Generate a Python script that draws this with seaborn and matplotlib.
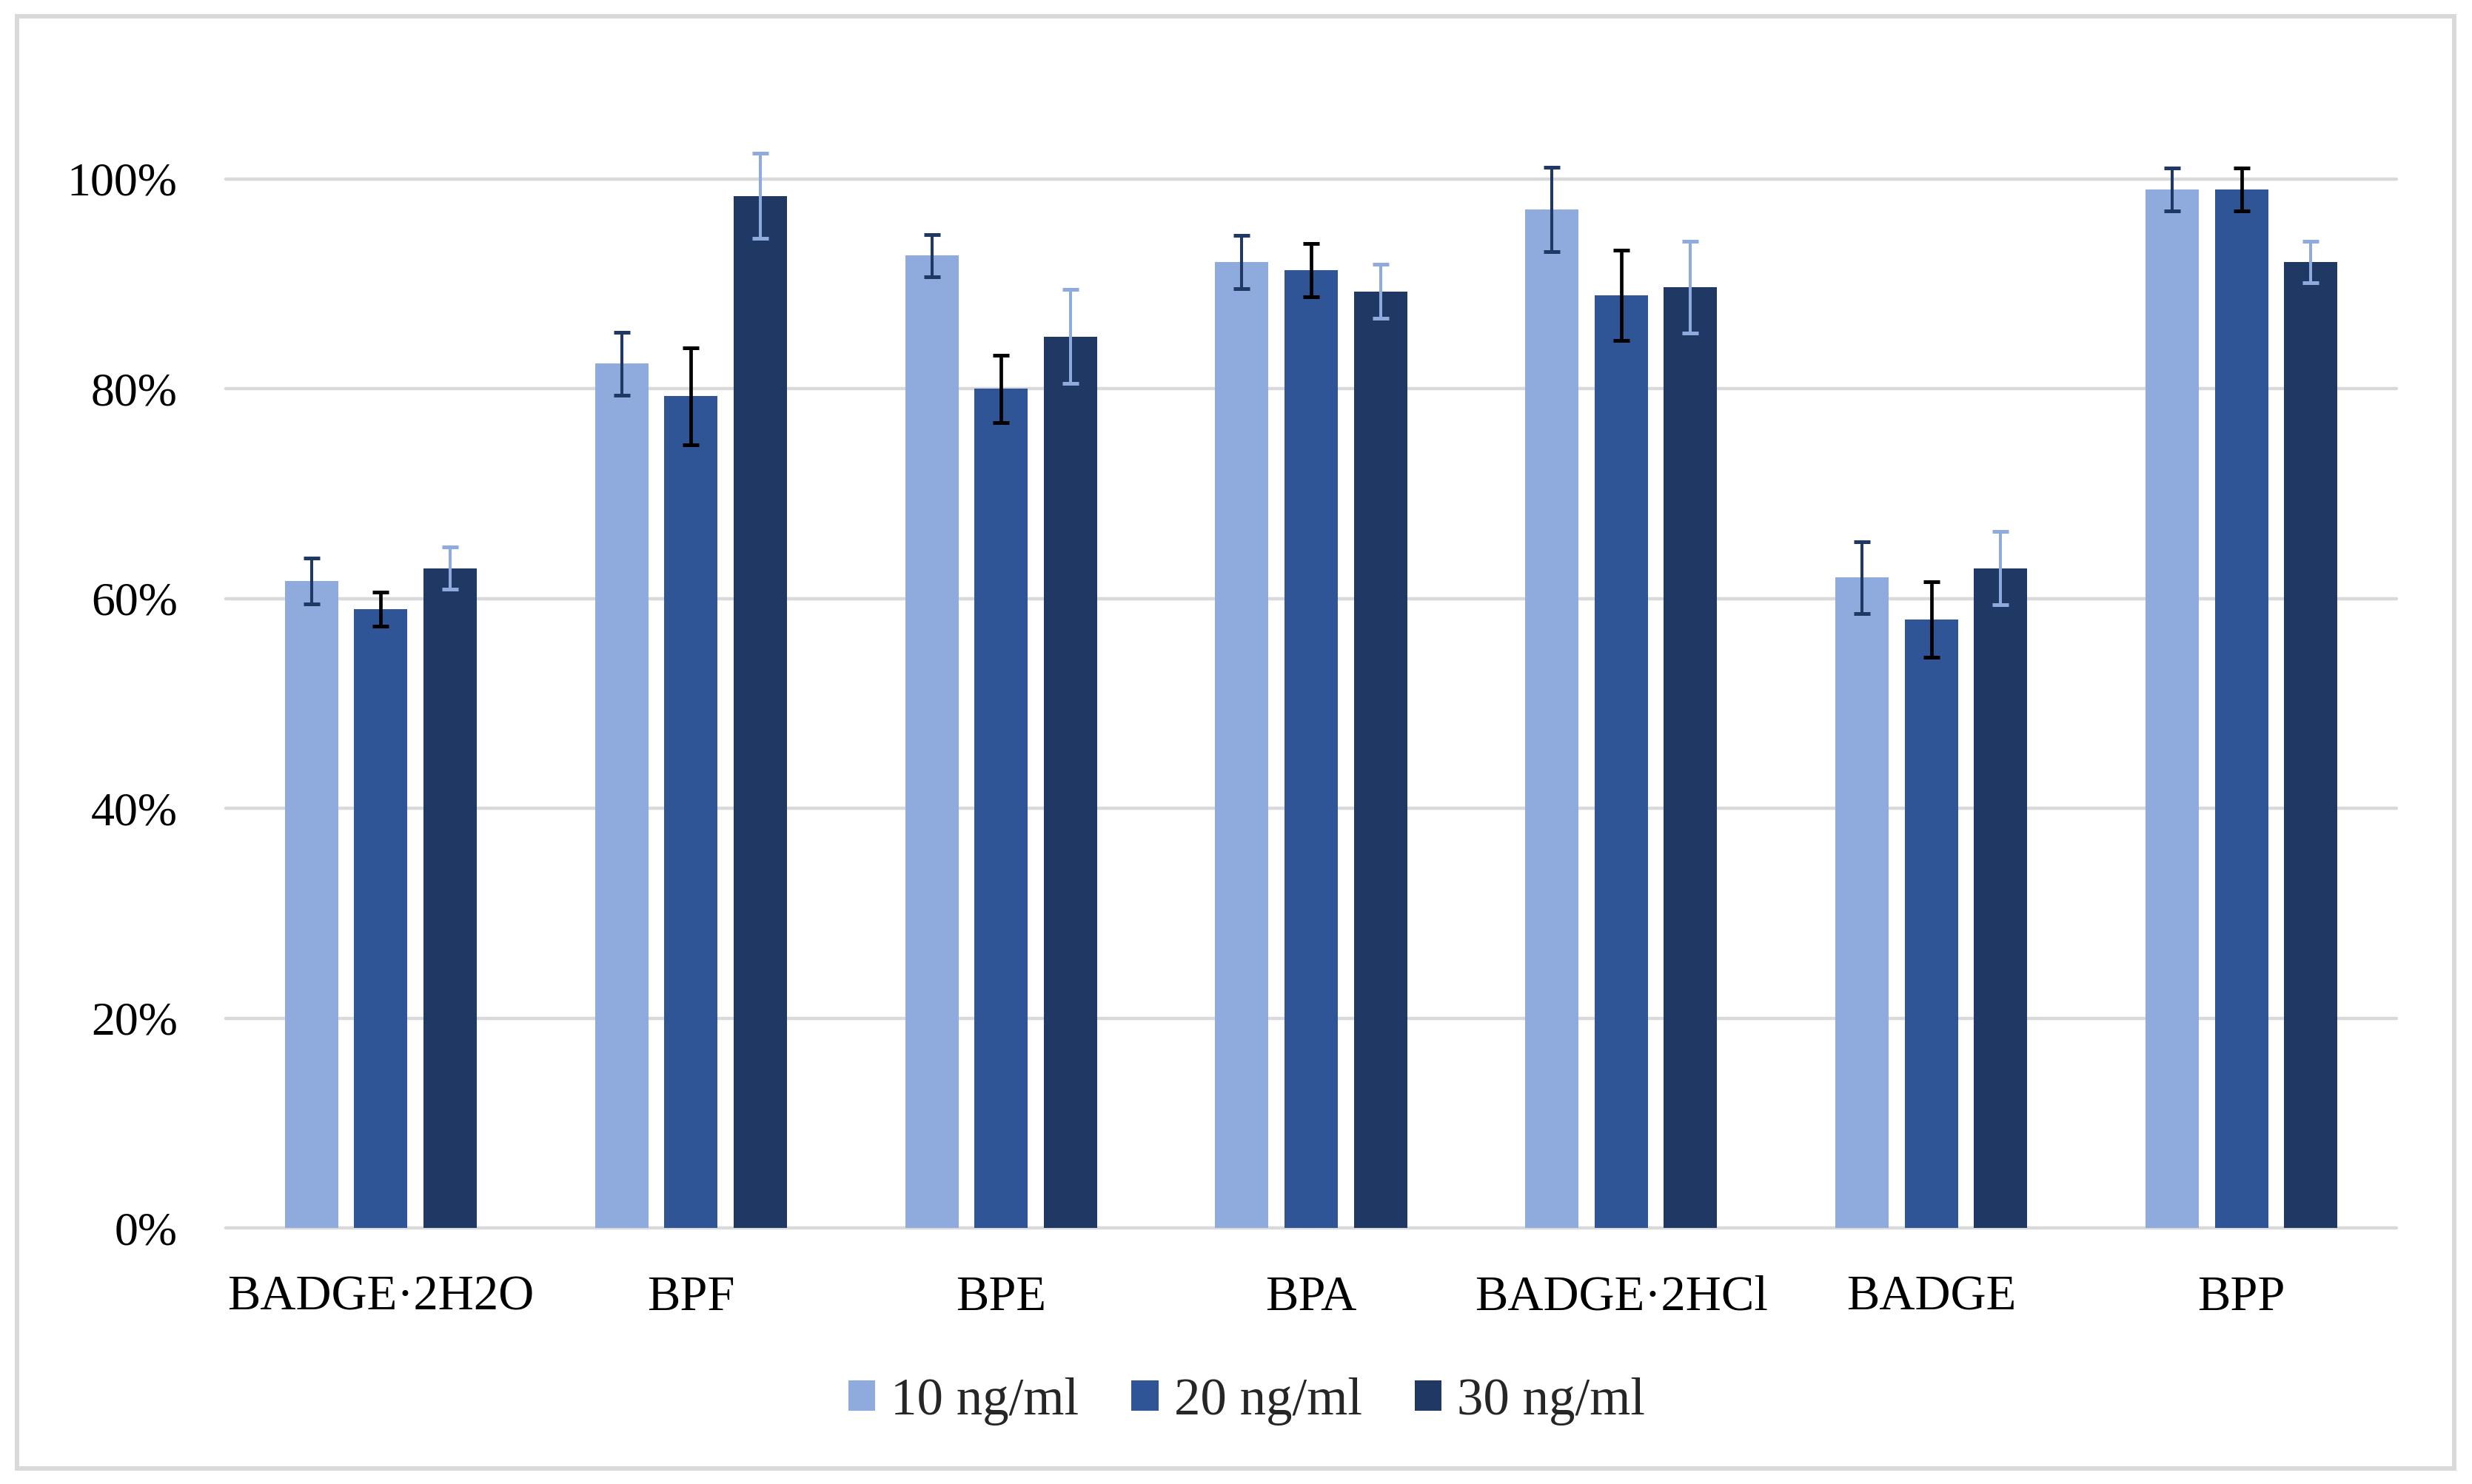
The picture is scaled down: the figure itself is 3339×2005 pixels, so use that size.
import numpy as np
import pandas as pd
import seaborn as sns
import matplotlib.pyplot as plt
from matplotlib.ticker import PercentFormatter

# Data (recovery, %)
compounds = ["BADGE·2H2O", "BPF", "BPE", "BPA", "BADGE·2HCl", "BADGE", "BPP"]
levels = ["10 ng/ml", "20 ng/ml", "30 ng/ml"]

rec_10 = [61.7, 82.4, 92.7, 92.1, 97.1, 62.0, 99.0]
rec_20 = [59.0, 79.3, 80.0, 91.3, 88.9, 58.0, 99.0]
rec_30 = [62.9, 98.4, 85.0, 89.3, 89.7, 62.9, 92.1]

err_10 = [2.2, 3.0, 2.0, 2.55, 4.05, 3.45, 2.05]
err_20 = [1.6, 4.6, 3.2, 2.55, 4.3, 3.6, 2.05]
err_30 = [2.0, 4.05, 4.5, 2.55, 4.35, 3.5, 2.0]

bar_colors = ["#8FAADC", "#2F5597", "#203864"]
err_colors = ["#203864", "black", "#8FAADC"]

df = pd.DataFrame({
    "compound": compounds * 3,
    "level": np.repeat(levels, len(compounds)),
    "recovery": rec_10 + rec_20 + rec_30,
})
errs = [err_10, err_20, err_30]

sns.set_theme(style="whitegrid")
plt.rcParams["font.family"] = ["Liberation Serif", "DejaVu Serif"]

W, H = 3339, 2005
fig = plt.figure(figsize=(W / 100, H / 100), dpi=100)
ax = fig.add_axes([305 / W, 1 - 1659 / H, (3237 - 305) / W, (1659 - 242) / H])

sns.barplot(data=df, x="compound", y="recovery", hue="level", order=compounds,
            hue_order=levels, palette=bar_colors, saturation=1, errorbar=None,
            width=0.67, gap=0.23, linewidth=0, ax=ax)

# error bars on top of each bar
for cont, e, c in zip(ax.containers, errs, err_colors):
    xs = [p.get_x() + p.get_width() / 2 for p in cont.patches]
    ys = [p.get_height() for p in cont.patches]
    ax.errorbar(xs, ys, yerr=e, fmt="none", ecolor=c, elinewidth=3.4 if c == "black" else 2.9,
                capsize=8, capthick=3.6, clip_on=False, zorder=5)

ax.set_ylim(0, 100)
ax.set_yticks([0, 20, 40, 60, 80, 100])
ax.yaxis.set_major_formatter(PercentFormatter(100, decimals=0))
ax.set_xlim(-0.5, len(compounds) - 0.5)
ax.set_xlabel("")
ax.set_ylabel("")
ax.grid(axis="x", visible=False)
ax.grid(axis="y", color="#D9D9D9", linewidth=3.2)
for line in ax.get_ygridlines():
    line.set_clip_on(False)
for s in ax.spines.values():
    s.set_visible(False)

ax.tick_params(axis="x", labelsize=48, length=0, pad=46, colors="black")
ax.tick_params(axis="y", labelsize=46, length=0, pad=47, colors="black")

ax.legend(loc="center", bbox_to_anchor=(1684 / W, 1 - 1893 / H), bbox_transform=fig.transFigure,
          ncol=3, frameon=False, fontsize=51, handlelength=0.51, handleheight=0.51,
          handletextpad=0.3, columnspacing=1.0)

# light frame around the whole chart
fig.patches.append(plt.Rectangle((23 / W, 1 - 1984 / H), (3315 - 23) / W, (1984 - 22) / H,
                                 transform=fig.transFigure, fill=False,
                                 edgecolor="#D9D9D9", linewidth=4.3))

fig.savefig("out.png", dpi=100, facecolor="white")
